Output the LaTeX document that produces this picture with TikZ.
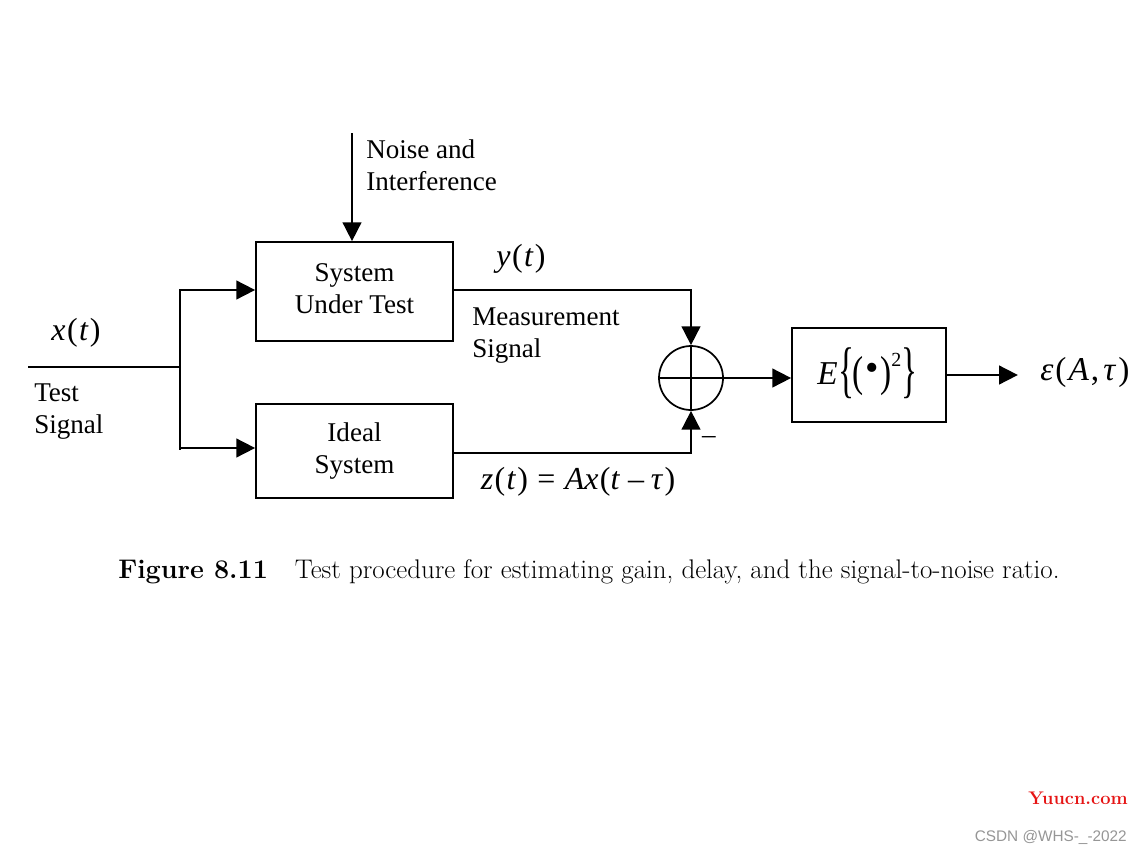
\documentclass[tikz,border=0pt]{standalone}
\usepackage{fontspec}
\usepackage{graphicx}
\usetikzlibrary{arrows.meta,calc}
\newfontfamily\tnr{Liberation Serif}
\newfontfamily\arialf{Liberation Sans}
\definecolor{wmred}{RGB}{230,20,20}
\definecolor{wmgray}{RGB}{150,150,150}
\begin{document}
\begin{tikzpicture}[x=0.75pt,y=-0.75pt,
  lw/.style={line width=1.3pt},
  blk/.style={draw,lw,align=center,font=\tnr\fontsize{20.3}{24}\selectfont,inner sep=0pt},
  arr/.style={lw,-{Triangle[length=14pt,width=14pt]}},
  lbl/.style={font=\tnr\fontsize{20.3}{24}\selectfont,inner sep=0pt,align=left},
  mth/.style={font=\tnr\fontsize{24}{28}\selectfont,inner sep=0pt}]
\useasboundingbox[fill=white] (0,0) rectangle (1141,853);
% blocks
\node[blk,minimum width=147.75pt,minimum height=74.25pt] (sut) at (354.5,291.5) {\raisebox{3.5pt}{\begin{tabular}{@{}c@{}}System\\Under Test\end{tabular}}};
\node[blk,minimum width=147.75pt,minimum height=70.5pt] (ideal) at (354.5,451) {Ideal\\System};
\node[draw,lw,circle,minimum size=48pt,inner sep=0pt] (sum) at (691,378) {};
\node[blk,minimum width=115.5pt,minimum height=70.5pt] (E) at (869,375) {};
\node[inner sep=0pt,anchor=base west,font=\tnr\fontsize{25}{28}\selectfont] (Etxt) at (817,384)
  {\textit{E}\kern0.5pt\raisebox{-5pt}{\scalebox{1}[1.85]{\{}}\kern-1pt\raisebox{-2pt}{\scalebox{1}[1.3]{(}}\kern1pt\raisebox{2.5pt}{\scalebox{1.15}{•}}\kern1pt\raisebox{-2pt}{\scalebox{1}[1.3]{)}}\raisebox{13pt}{\fontsize{15}{16}\selectfont 2}\raisebox{-5pt}{\scalebox{1}[1.85]{\}}}};
% coordinates
\coordinate (in) at (28,367);
\coordinate (split) at (180,367);
\coordinate (noise) at (352,133);
% connectors
\draw[lw] (in) -- (split);
\draw[lw] (split) -- ($(split)+(0,83)$);
\draw[arr] (split) |- ($(sut.west)+(0,-1.5)$);
\draw[arr] (split) |- ($(ideal.west)+(0,-3)$);
\draw[arr] (noise) -- (noise |- sut.north);
\draw[arr] ($(sut.east)+(0,-1.5)$) -| (sum.north);
\draw[arr] ($(ideal.east)+(0,2)$) -| (sum.south);
\draw[arr] (sum.east) -- (sum.east -| E.west);
\draw[arr] (E.east) -- ++(71,0) coordinate (out);
\draw[lw] (sum.north) -- (sum.south) (sum.west) -- (sum.east);
% labels
\node[lbl,anchor=north west] (noiselbl) at (366,139) {Noise and\\Interference};
\node[mth] (ylbl) at (521,259) {\textit{y}\kern1pt(\kern1pt\textit{t}\kern1pt)};
\node[lbl,anchor=north west] (meas) at (472,308) {Measurement\\Signal};
\node[mth] (xlbl) at (76,333) {\textit{x}\kern1pt(\kern1pt\textit{t}\kern1pt)};
\node[lbl,anchor=north west] (test) at (34,384) {Test\\Signal};
\node[mth] (zlbl) at (578,482) {\textit{z}\kern1pt(\kern1pt\textit{t}\kern1pt)\hspace{7pt}=\hspace{7pt}\textit{Ax}\kern1pt(\textit{t}\hspace{6pt}–\hspace{5pt}\textit{τ}\kern1pt)};
\node[lbl] (minus) at (709,440) {–};
\node[mth,anchor=west,font=\tnr\fontsize{25}{28}\selectfont] (eps) at (1040,372) {\textit{ε}\kern1.5pt(\kern1.5pt\textit{A}\kern1.5pt,\kern3pt\textit{τ}\kern1.5pt)};
% caption
\node[anchor=base west,inner sep=0pt,font=\fontsize{20.2}{24}\selectfont] (cap) at (118,578)
  {\textbf{Figure 8.11}\quad Test procedure for estimating gain, delay, and the signal-to-noise ratio.};
% watermarks
\node[anchor=base east,inner sep=0pt,text=wmred,font=\bfseries\fontsize{13.7}{16}\selectfont] (wm1) at (1128,804) {Yuucn.com};
\node[anchor=base east,inner sep=0pt,text=wmgray,font=\arialf\fontsize{11.5}{14}\selectfont] (wm2) at (1127,841) {CSDN @WHS-\_-2022};
\end{tikzpicture}
\end{document}
